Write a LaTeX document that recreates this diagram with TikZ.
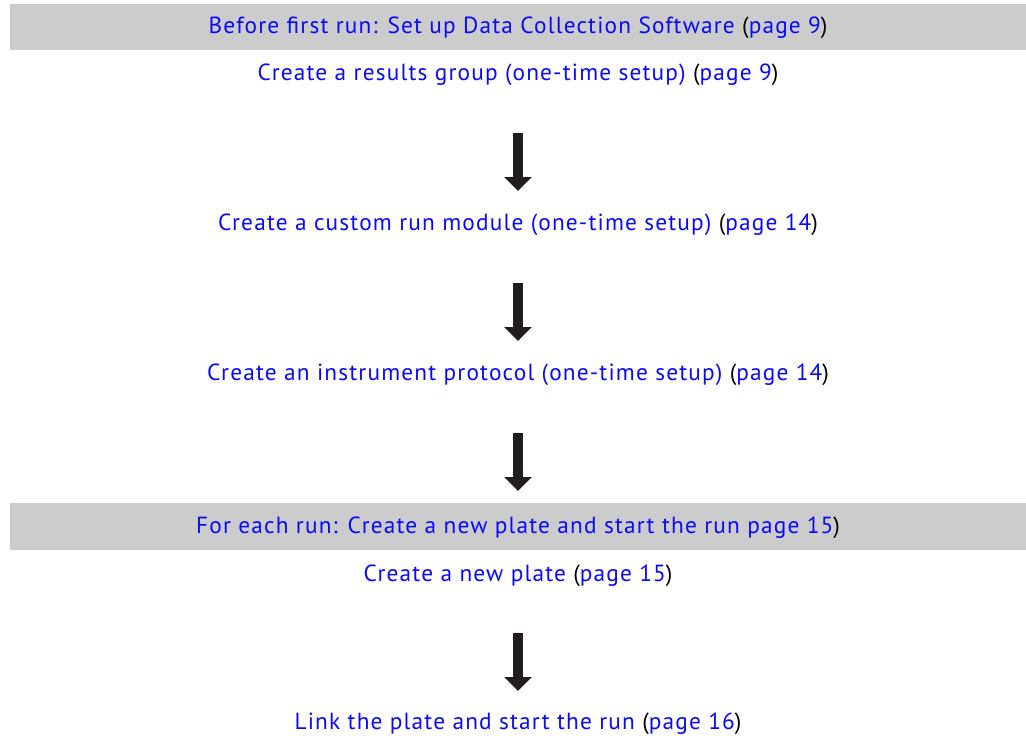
\documentclass[tikz,border=0pt]{standalone}
\usepackage{fontspec}
\setmainfont[LetterSpace=5]{PT Sans}
\usetikzlibrary{arrows.meta}
\definecolor{linkblue}{RGB}{10,10,250}
\definecolor{bargray}{RGB}{204,204,204}
\definecolor{arrowblack}{RGB}{34,30,31}
\newcommand{\bk}[1]{\textcolor{black}{#1}}
\begin{document}
\begin{tikzpicture}[x=0.75pt,y=-0.75pt,
  lbl/.style={text=linkblue,font=\fontsize{17.5pt}{20pt}\selectfont,inner sep=0pt,anchor=base},
  bar/.style={fill=bargray,draw=none},
  bigarrow/.style={draw=arrowblack,line width=7.5pt,-{Triangle[width=20pt,length=10.5pt]}}]
\useasboundingbox (0,0) rectangle (1026,736);
\fill[bar] (10,4) rectangle (1026,50);
\fill[bar] (10,503) rectangle (1026,550);
\node[lbl] (h1) at (518,33.5) {Before first run: Set up Data Collection Software \bk{(}page 9\bk{)}};
\node[lbl] (t1) at (518,80.5) {Create a results group (one-time setup) \bk{(}page 9\bk{)}};
\node[lbl] (t2) at (518,230.5) {Create a custom run module (one-time setup) \bk{(}page 14\bk{)}};
\node[lbl] (t3) at (518,380.5) {Create an instrument protocol (one-time setup) \bk{(}page 14\bk{)}};
\node[lbl] (h2) at (518,533.5) {For each run: Create a new plate and start the run page 15\bk{)}};
\node[lbl] (t4) at (518,581.5) {Create a new plate \bk{(}page 15\bk{)}};
\node[lbl] (t5) at (518,729.5) {Link the plate and start the run \bk{(}page 16\bk{)}};
\coordinate (a1s) at (518,133); \coordinate (a1e) at (518,191);
\coordinate (a2s) at (518,283); \coordinate (a2e) at (518,341);
\coordinate (a3s) at (518,433); \coordinate (a3e) at (518,491);
\coordinate (a4s) at (518,633); \coordinate (a4e) at (518,691);
\draw[bigarrow] (a1s) -- (a1e);
\draw[bigarrow] (a2s) -- (a2e);
\draw[bigarrow] (a3s) -- (a3e);
\draw[bigarrow] (a4s) -- (a4e);
\end{tikzpicture}
\end{document}
